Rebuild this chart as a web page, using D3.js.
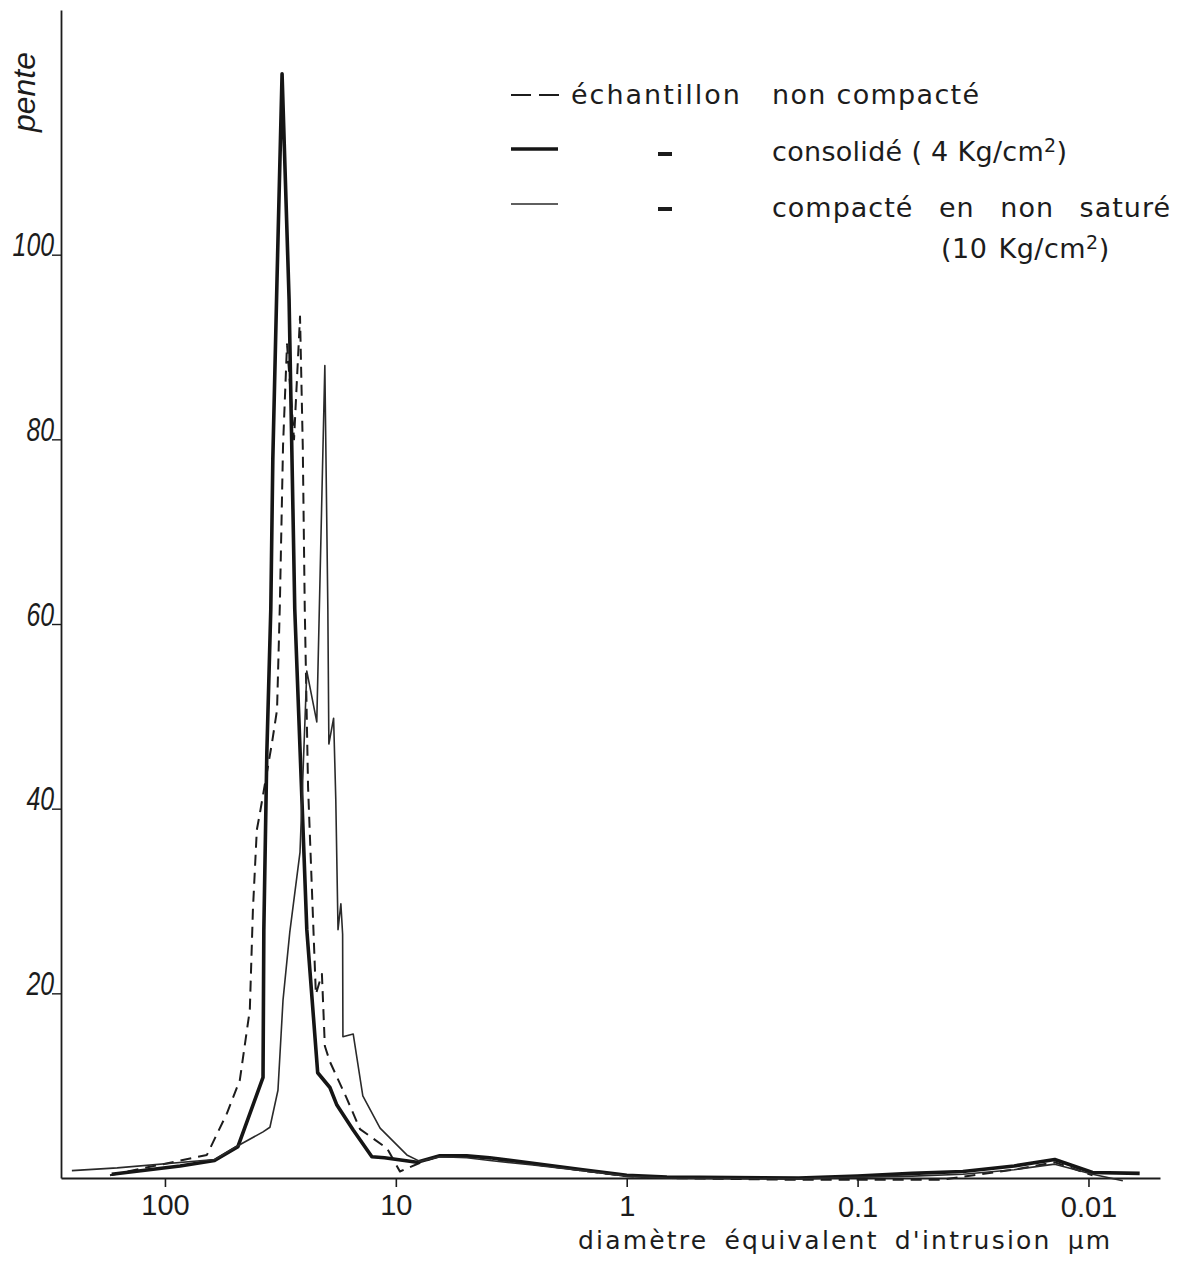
<!DOCTYPE html>
<html>
<head>
<meta charset="utf-8">
<script src="https://cdn.jsdelivr.net/npm/d3@7"></script>
<style>
  body { margin: 0; background: #fff; }
  text { font-family: 'Liberation Sans', Arial, sans-serif; fill: #1c1c1c; }
</style>
</head>
<body>
<script>
// diamètre (µm) and pente values
const diamNonCompacte = [173, 65.8, 53.9, 47.4, 42.9, 41.6, 40.0, 38.8, 34.4, 32.7, 31.8, 30.8, 29.6, 27.6, 26.0, 25.3, 24.8, 24.0,
    22.2, 20.9, 20.3, 19.3, 16.3, 14.3, 10.9, 9.6, 7.6, 6.45, 4.93, 3.92, 2.55, 1.55, 1.0, 0.67, 0.18, 0.10, 0.058, 0.044, 0.021, 0.014, 0.0096];
const penteNonCompacte = [0.3, 2.5, 7.0, 10.6, 18.2, 29.0, 37.7, 39.5, 47.1, 50.7, 62.0, 79.3, 90.3, 80.0, 93.3, 79.3, 61.6, 42.4,
    19.9, 22.1, 14.3, 12.6, 8.6, 5.3, 3.2, 0.7, 1.8, 2.4, 2.3, 2.1, 1.5, 0.8, 0.2, 0.0, -0.2, -0.2, -0.2, -0.2, 0.9, 1.7, 0.3];

const diamConsolide = [170, 86, 61, 48.3, 37.6, 37.3, 36.2, 34.8, 34.1, 32.7, 31.1, 29.0, 27.4, 24.3, 21.8, 19.3, 18.0, 15.3,
    12.7, 11.2, 8.1, 6.45, 4.93, 3.92, 2.55, 1.55, 1.0, 0.67, 0.18, 0.10, 0.058, 0.035, 0.021, 0.014, 0.0096, 0.006];
const penteConsolide = [0.4, 1.3, 1.9, 3.4, 10.9, 26.9, 46.1, 61.6, 77.9, 97.4, 119.6, 95.2, 61.6, 26.9, 11.4, 9.8, 7.9, 5.2,
    2.3, 2.2, 1.7, 2.4, 2.4, 2.2, 1.6, 0.9, 0.3, 0.1, 0.0, 0.2, 0.5, 0.7, 1.3, 2.0, 0.6, 0.5];

const diamCompacte = [253, 161, 60.8, 48.3, 37.6, 35.1, 32.4, 30.8, 28.8, 26.0, 25.3, 24.3, 22.0, 20.3, 19.7, 19.5, 18.6, 18.2,
    17.8, 17.3, 17.0, 16.95, 15.3, 13.9, 11.7, 8.96, 7.87, 6.45, 4.93, 3.92, 2.55, 1.55, 1.0, 0.67, 0.18, 0.10, 0.058, 0.035, 0.021, 0.014, 0.0096, 0.0071];
const penteCompacte = [0.8, 1.1, 2.0, 3.5, 5.0, 5.5, 9.5, 19.3, 26.6, 35.3, 43.2, 54.9, 49.4, 88.0, 61.6, 47.0, 49.8, 41.0,
    26.9, 29.7, 26.4, 15.3, 15.6, 8.9, 5.4, 2.5, 1.8, 2.3, 2.2, 1.9, 1.4, 0.8, 0.2, 0.0, -0.1, 0.1, 0.2, 0.4, 0.9, 1.5, 0.4, -0.3];

const xTicks = [100, 10, 1, 0.1, 0.01];
const xTickLabels = ['100', '10', '1', '0.1', '0.01'];
const yTicks = [20, 40, 60, 80, 100];
const xExtent = [282, 0.0049]; // axis runs from large to small diameters
const yExtent = [0, 126.5];

const svg = d3.select('body').append('svg')
    .attr('width', 1179)
    .attr('height', 1263);

svg.append('rect')
    .attr('width', 1179)
    .attr('height', 1263)
    .attr('fill', '#fff');

const x = d3.scaleLog().domain(xExtent).range([61, 1160]);
const y = d3.scaleLinear().domain(yExtent).range([1178, 10]);

// y axis: italic labels sitting on little underscore ticks
const yAxis = svg.append('g')
    .attr('transform', 'translate(61,0)')
    .call(d3.axisLeft(y).tickValues(yTicks).tickSize(9).tickSizeOuter(0).tickPadding(-2));
yAxis.select('.domain').attr('stroke', '#1c1c1c').attr('stroke-width', 1.8);
yAxis.selectAll('.tick line').attr('stroke', '#1c1c1c').attr('stroke-width', 1.4);
yAxis.selectAll('.tick text')
    .attr('dy', '0')
    .attr('y', 1)
    .attr('textLength', d => String(d).length * 13.8)
    .attr('lengthAdjust', 'spacingAndGlyphs')
    .style('font-size', '33px')
    .style('font-style', 'italic')
    .style('font-family', 'Liberation Sans, Arial, sans-serif')
    .attr('fill', '#1c1c1c');

// x axis (log, reversed)
const xAxis = svg.append('g')
    .attr('transform', `translate(0,${y(0)})`)
    .call(d3.axisBottom(x).tickValues(xTicks).tickFormat((d, i) => xTickLabels[i])
        .tickSize(9).tickSizeOuter(0).tickPadding(7));
xAxis.select('.domain').attr('stroke', '#1c1c1c').attr('stroke-width', 1.8);
xAxis.selectAll('.tick line').attr('stroke', '#1c1c1c').attr('stroke-width', 1.6);
xAxis.selectAll('.tick text')
    .attr('dy', (d, i) => (0.71 + i * 0.025) + 'em') // scanned axis drifts down to the right
    .style('font-size', '29px')
    .style('font-family', 'Liberation Sans, Arial, sans-serif')
    .attr('fill', '#1c1c1c');

const line = d3.line()
    .x(d => x(d[0]))
    .y(d => y(d[1]));

const series = [
    { diam: diamNonCompacte, pente: penteNonCompacte, width: 2, dash: '11,7', color: '#1c1c1c' },
    { diam: diamConsolide, pente: penteConsolide, width: 3.6, dash: null, color: '#151515' },
    { diam: diamCompacte, pente: penteCompacte, width: 1.6, dash: null, color: '#2a2a2a' }
];

series.forEach(s => {
    svg.append('path')
        .datum(d3.zip(s.diam, s.pente))
        .attr('d', line)
        .attr('fill', 'none')
        .attr('stroke', s.color)
        .attr('stroke-width', s.width)
        .attr('stroke-linejoin', 'round')
        .attr('stroke-dasharray', s.dash);
});

// y label
svg.append('text')
    .attr('transform', 'translate(35,92) rotate(-90)')
    .attr('text-anchor', 'middle')
    .style('font-size', '32px')
    .style('font-style', 'italic')
    .text('pente');

// x label
svg.append('text')
    .attr('x', 578)
    .attr('y', 1249)
    .style('font-family', 'DejaVu Sans, sans-serif')
    .style('font-size', '25px')
    .style('letter-spacing', '2.2px')
    .style('word-spacing', '6px')
    .text("diamètre équivalent d'intrusion µm");

// legend
const legend = svg.append('g');
const legendRows = [
    { y: 95, s: series[0], dashX: null },
    { y: 149, s: series[1], dashX: 658 },
    { y: 204, s: series[2], dashX: 658 }
];
legendRows.forEach(r => {
    legend.append('line')
        .attr('x1', 511).attr('x2', r.s.dash ? 563 : 558)
        .attr('y1', r.y).attr('y2', r.y)
        .attr('stroke', r.s.color)
        .attr('stroke-width', r.s.width)
        .attr('stroke-dasharray', r.s.dash ? '20,8' : null);
    if (r.dashX) {
        legend.append('line')
            .attr('x1', r.dashX).attr('x2', r.dashX + 14)
            .attr('y1', r.y + 5).attr('y2', r.y + 5)
            .attr('stroke', '#1c1c1c')
            .attr('stroke-width', 4);
    }
});

const legendText = (xPos, yPos, spacing, wordGap, parts) => {
    const t = legend.append('text')
        .attr('x', xPos)
        .attr('y', yPos)
        .style('font-family', 'DejaVu Sans, sans-serif')
        .style('font-size', '27px')
        .style('letter-spacing', spacing + 'px')
        .style('word-spacing', wordGap + 'px');
    parts.forEach(p => {
        t.append('tspan')
            .attr('dy', p.sup ? -9 : (p.after ? 9 : null))
            .style('font-size', p.sup ? '19px' : null)
            .text(p.text);
    });
};

legendText(571, 104, 2, 0, [{ text: 'échantillon' }]);
legendText(772, 104, 1.3, 0, [{ text: 'non compacté' }]);
legendText(772, 161, 0.3, 0, [{ text: 'consolidé ( 4 Kg/cm' }, { text: '2', sup: true }, { text: ')', after: true }]);
legendText(772, 217, 1, 16, [{ text: 'compacté en non saturé' }]);
legendText(941, 258, 0.5, 2, [{ text: '(10 Kg/cm' }, { text: '2', sup: true }, { text: ')', after: true }]);
</script>
</body>
</html>
